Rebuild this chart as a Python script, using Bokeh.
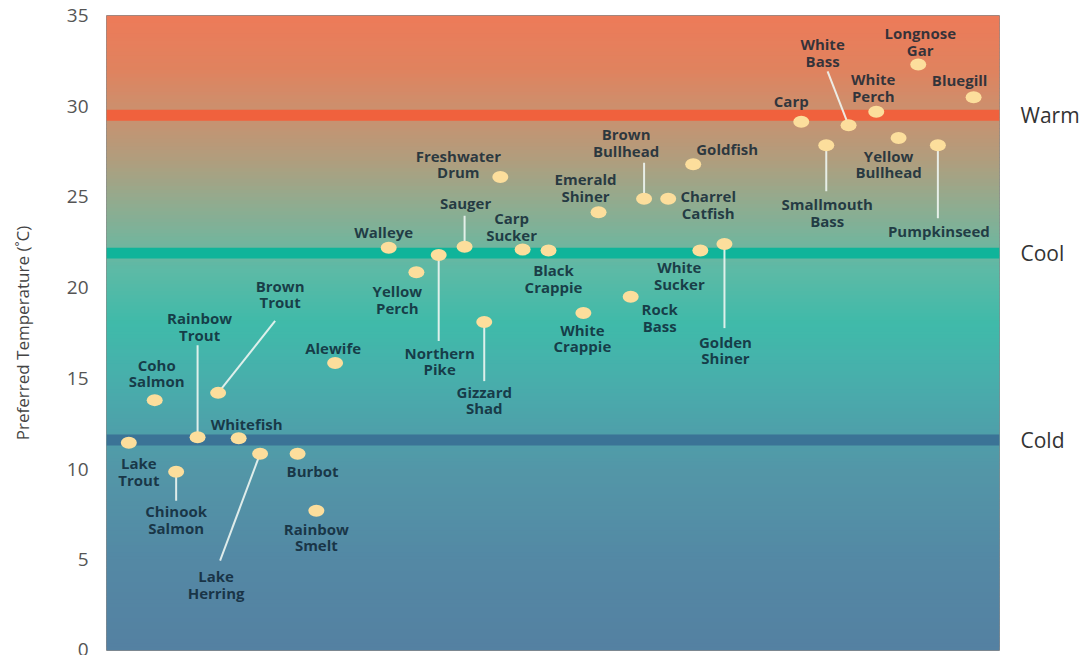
import numpy as np
from bokeh.plotting import figure
from bokeh.models import ColumnDataSource, Range1d, LinearAxis, FixedTicker
from bokeh.core.properties import value
from bokeh.embed import file_html
from bokeh.resources import INLINE

# ---------------- data ----------------
fish = ["Lake\nTrout", "Coho\nSalmon", "Chinook\nSalmon", "Rainbow\nTrout", "Brown\nTrout",
        "Whitefish", "Lake\nHerring", "Burbot", "Rainbow\nSmelt", "Alewife",
        "Walleye", "Yellow\nPerch", "Northern\nPike", "Sauger", "Gizzard\nShad",
        "Freshwater\nDrum", "Carp\nSucker", "Black\nCrappie", "White\nCrappie", "Emerald\nShiner",
        "Rock\nBass", "Brown\nBullhead", "Charrel\nCatfish", "Goldfish", "White\nSucker",
        "Golden\nShiner", "Carp", "Smallmouth\nBass", "White\nBass", "White\nPerch",
        "Yellow\nBullhead", "Longnose\nGar", "Pumpkinseed", "Bluegill"]
xpos = [2.5, 5.4, 7.8, 10.2, 12.5,
        14.8, 17.2, 21.4, 23.5, 25.6,
        31.6, 34.7, 37.2, 40.1, 42.3,
        44.1, 46.6, 49.5, 53.4, 55.1,
        58.7, 60.2, 62.9, 65.7, 66.5,
        69.2, 77.8, 80.6, 83.1, 86.2,
        88.7, 90.9, 93.1, 97.1]
temp = [11.45, 13.8, 9.85, 11.75, 14.2,
        11.7, 10.85, 10.85, 7.7, 15.85,
        22.2, 20.85, 21.8, 22.25, 18.1,
        26.1, 22.1, 22.05, 18.6, 24.15,
        19.5, 24.9, 24.9, 26.8, 22.05,
        22.4, 29.15, 27.85, 28.95, 29.7,
        28.25, 32.3, 27.85, 30.5]

zones = ["Warm", "Cool", "Cold"]
zone_temp = [29.5, 21.9, 11.6]
y_ticks = [0, 5, 10, 15, 20, 25, 30, 35]

# ---------------- layout (screen px offsets of label centres from dots) ----------------
label_dx = [10, 2, 0, 2, 62,
            8, -44, 15, 0, -2,
            -5, -19, 1, 1, 0,
            -42, -11, 5, -1, -13,
            29, -18, 40, 34, -21,
            1, -10, 1, -26, -3,
            -10, 2, 1, -14]
label_dy = [29, -27, 48, -111, -99,
            -14, 131, 17, 26, -15,
            -16, 27, 106, -44, 78,
            -13, -23, 28, 25, -25,
            21, -56, 6, -15, 25,
            106, -21, 67, -73, -24,
            26, -23, 86, -17]
# leader lines: index -> end offset (px) from dot
leaders = {2: (0, 29), 3: (0, -92), 4: (57, -72), 6: (-40, 107), 12: (0, 86),
           13: (0, -31), 14: (0, 59), 21: (0, -36), 25: (0, 84), 27: (0, 46),
           28: (-21, -54), 32: (0, 73)}

W, H = 1082, 655
ML, MR, MT, MB = 106, 83, 15, 5
FW, FH = W - ML - MR, H - MT - MB
X0, X1, Y0, Y1 = 0, 100, 0, 35
PXX = FW / (X1 - X0)
PXY = FH / (Y1 - Y0)

p = figure(width=W, height=H, output_backend="svg", toolbar_location=None,
           x_range=Range1d(X0, X1), y_range=Range1d(Y0, Y1),
           x_axis_location=None, y_axis_location="left",
           min_border_left=ML, min_border_right=MR, min_border_top=MT, min_border_bottom=MB)
p.xgrid.visible = False
p.ygrid.visible = False
p.outline_line_color = "#8a8a8a"
p.outline_line_width = 1
p.border_fill_color = "white"

# background gradient
stops_t = [0, 5, 10, 12, 15, 18, 21, 23, 25, 27, 30, 32, 35]
stops_c = ["#5581A2", "#5489A5", "#5397A8", "#4FA0AA", "#48AFAC", "#40BBAA", "#5DBAA6",
           "#7BB39A", "#96AA8D", "#B09E7E", "#CE8F6D", "#E0835F", "#EE7B59"]
def hex2rgb(h):
    return np.array([int(h[i:i + 2], 16) for i in (1, 3, 5)], dtype=float)
rgbs = np.array([hex2rgb(c) for c in stops_c])
edges = np.linspace(Y0, Y1, 176)
mids = (edges[:-1] + edges[1:]) / 2
cols = []
for m in mids:
    r = np.interp(m, stops_t, rgbs[:, 0]); g = np.interp(m, stops_t, rgbs[:, 1]); b = np.interp(m, stops_t, rgbs[:, 2])
    cols.append("#%02x%02x%02x" % (int(r), int(g), int(b)))
tops = np.minimum(edges[1:] + 0.15, Y1)
p.quad(left=X0, right=X1, bottom=edges[:-1], top=tops, fill_color=cols, line_color=None)

# zone bands
band_cols = ["#F0613D", "#0FB49A", "#3B7396"]
p.hbar(y=zone_temp, height=0.6, left=X0, right=X1, fill_color=band_cols, line_color=None)

# leader lines
lx0, ly0, lx1, ly1 = [], [], [], []
for i, (dx, dy) in leaders.items():
    lx0.append(xpos[i]); ly0.append(temp[i])
    lx1.append(xpos[i] + dx / PXX); ly1.append(temp[i] - dy / PXY)
p.segment(x0=lx0, y0=ly0, x1=lx1, y1=ly1, line_color="#eef6f2", line_width=2, line_alpha=0.9)

src = ColumnDataSource(dict(x=xpos, y=temp, name=fish, dx=label_dx, dy=label_dy))
p.ellipse(x="x", y="y", width=16, height=12, width_units="screen", height_units="screen",
          fill_color="#FCDE9C", line_color=None, source=src)
p.text(x="x", y="y", text="name", x_offset="dx", y_offset="dy", source=src,
       text_font=value("Open Sans"), text_font_style="bold", text_font_size="15px",
       text_color="#0c2232", text_alpha=0.82, text_align="center", text_baseline="middle",
       text_line_height=0.83)

# left axis
ax = p.yaxis[0]
ax.ticker = FixedTicker(ticks=y_ticks)
ax.axis_line_color = None
ax.major_tick_line_color = None
ax.minor_tick_line_color = None
ax.major_label_standoff = 12
ax.major_label_text_font = "Open Sans"
ax.major_label_text_font_size = "19px"
ax.major_label_text_color = "#555555"
ax.axis_label = "Preferred Temperature (˚C)"
ax.axis_label_text_font = "Open Sans"
ax.axis_label_text_font_size = "17px"
ax.axis_label_text_font_style = "normal"
ax.axis_label_text_color = "#444444"
ax.axis_label_standoff = 30

# right axis with zone names
rax = LinearAxis(ticker=FixedTicker(ticks=zone_temp),
                 major_label_overrides={t: z for t, z in zip(zone_temp, zones)})
rax.axis_line_color = None
rax.major_tick_line_color = None
rax.minor_tick_line_color = None
rax.major_label_standoff = 15
rax.major_label_text_font = "Open Sans"
rax.major_label_text_font_size = "21px"
rax.major_label_text_color = "#333333"
p.add_layout(rax, "right")

open("out.html", "w").write(file_html(p, INLINE))
